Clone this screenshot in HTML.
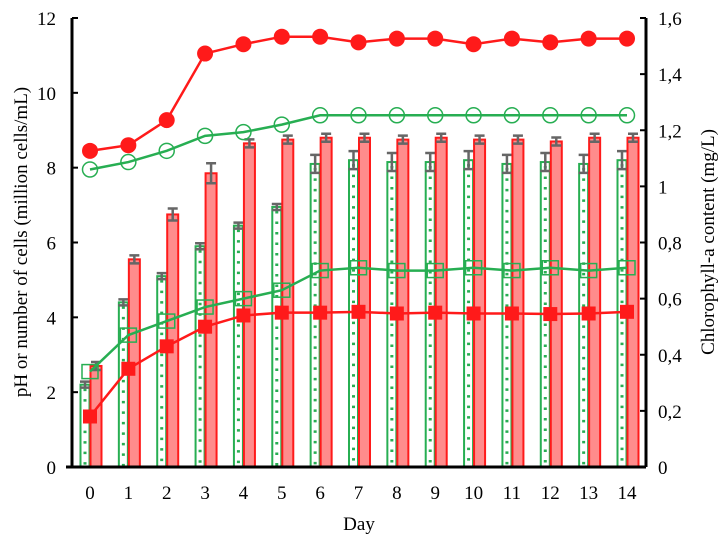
<!DOCTYPE html>
<html><head><meta charset="utf-8"><style>
html,body{margin:0;padding:0;background:#fff}
svg{display:block}
text{font-family:"Liberation Serif",serif;fill:#000}
</style></head><body>
<svg id="chart" width="726" height="544" viewBox="0 0 726 544" xmlns="http://www.w3.org/2000/svg"></svg>
<script>
const days=[0,1,2,3,4,5,6,7,8,9,10,11,12,13,14];
const leftTicks=[0,2,4,6,8,10,12];
const rightTicks=["0","0,2","0,4","0,6","0,8","1","1,2","1,4","1,6"];
const greenBars=[2.2,4.4,5.1,5.9,6.45,6.95,8.1,8.2,8.15,8.15,8.2,8.1,8.15,8.1,8.2];
const redBars=[2.7,5.55,6.75,7.85,8.65,8.75,8.8,8.8,8.75,8.8,8.75,8.75,8.7,8.8,8.8];
const redCircles=[8.45,8.6,9.27,11.05,11.3,11.5,11.5,11.35,11.45,11.45,11.3,11.45,11.35,11.45,11.45];
const greenCircles=[7.95,8.15,8.45,8.85,8.95,9.15,9.4,9.4,9.4,9.4,9.4,9.4,9.4,9.4,9.4];
const greenSquares=[0.34,0.47,0.52,0.57,0.6,0.63,0.70,0.71,0.70,0.70,0.71,0.70,0.71,0.70,0.71];
const redSquares=[0.18,0.35,0.43,0.50,0.54,0.55,0.55,0.553,0.547,0.55,0.547,0.547,0.545,0.547,0.553];

const svg=document.getElementById('chart');
const NS='http://www.w3.org/2000/svg';
const X0=72,X1=646,Y0=467,Y1=18;
const xs=d=>90+d*(627-90)/14;
const yL=v=>Y0-v*(Y0-Y1)/12;
const yR=v=>Y0-v*(Y0-Y1)/1.6;
function mk(tag,a,name,parent){const e=document.createElementNS(NS,tag);for(const k in a)e.setAttribute(k,a[k]);


(parent||svg).appendChild(e);return e;}
const err=(x,y,h,g)=>{mk('path',{d:`M${x-5},${y-h}H${x+5}M${x-5},${y+h}H${x+5}M${x},${y-h}V${y+h}`,stroke:'#666',"stroke-width":2.5,fill:'none'},'error-bar',g);};

const gb=mk('g',{},'bars');
days.forEach((d,i)=>{
  const x=xs(d);
  const yg=yL(greenBars[i]);
  mk('rect',{x:x-9.5,y:yg,width:9,height:Y0-yg,fill:'#fff',stroke:'#27ae52','stroke-width':2},'cell-count-bar',gb);
  mk('line',{x1:x-5,y1:yg+4,x2:x-5,y2:Y0,stroke:'#27ae52','stroke-width':3,'stroke-dasharray':'2.5,8'},'bar-dots',gb);
  err(x-5,yg,d>=6?9:3,gb);
  const yr=yL(redBars[i]);
  mk('rect',{x:x+0.5,y:yr,width:11,height:Y0-yr,fill:'#ff8c8c',stroke:'#ff1a1a','stroke-width':2},'chlorophyll-bar',gb);
  err(x+6,yr,d===3?10:d===2?6:4,gb);
});

function series(vals,yf,color,shape,name){
  const g=mk('g',{},name+'-series');
  const pts=days.map((d,i)=>[xs(d),yf(vals[i])]);
  mk('polyline',{points:pts.map(p=>p.join(',')).join(' '),fill:'none',stroke:color,'stroke-width':2.5},name+'-line',g);
  pts.forEach(p=>{
    if(shape==='fc')mk('circle',{cx:p[0],cy:p[1],r:8,fill:color},name+'-point',g);
    else if(shape==='oc')mk('circle',{cx:p[0],cy:p[1],r:7.5,fill:'none',stroke:color,'stroke-width':1.5},name+'-point',g);
    else if(shape==='fs')mk('rect',{x:p[0]-7,y:p[1]-7,width:14,height:14,fill:color},name+'-point',g);
    else mk('rect',{x:p[0]-8,y:p[1]-7,width:16,height:14,fill:'none',stroke:color,'stroke-width':1.5},name+'-point',g);
  });
}
series(greenSquares,yR,'#27ae52','os','green-square');
series(redSquares,yR,'#ff1a1a','fs','red-square');
series(greenCircles,yL,'#27ae52','oc','green-circle');
series(redCircles,yL,'#ff1a1a','fc','red-circle');

const ax=mk('g',{},'axes');
mk('path',{d:`M${X0},${Y1}V${Y0}M66,${Y0}H${X1}M${X1},${Y1}V${Y0}`,stroke:'#000','stroke-width':3,fill:'none'},'axis-lines',ax);
leftTicks.forEach(v=>{const y=yL(v);
  mk('line',{x1:X0,y1:y,x2:X0+6,y2:y,stroke:'#000','stroke-width':2},'left-tick',ax);
  const t=mk('text',{x:X0-16,y:y+7,'font-size':19,'text-anchor':'end'},'left-tick-label',ax);t.textContent=v;});
rightTicks.forEach((s,i)=>{const y=yR(i*0.2);
  mk('line',{x1:X1-6,y1:y,x2:X1,y2:y,stroke:'#000','stroke-width':2},'right-tick',ax);
  const t=mk('text',{x:X1+12,y:y+7,'font-size':19},'right-tick-label',ax);t.textContent=s;});
days.forEach(d=>{const t=mk('text',{x:xs(d),y:499,'font-size':19,'text-anchor':'middle'},'x-tick-label',ax);t.textContent=d;});
let t=mk('text',{x:359,y:530,'font-size':19,'text-anchor':'middle'},'x-axis-title',ax);t.textContent='Day';
t=mk('text',{x:0,y:0,'font-size':19,'text-anchor':'middle',transform:`translate(27,242) rotate(-90)`},'left-axis-title',ax);t.textContent='pH or number of cells (million cells/mL)';
t=mk('text',{x:0,y:0,'font-size':19,'text-anchor':'middle',transform:`translate(714,242) rotate(-90)`},'right-axis-title',ax);t.textContent='Chlorophyll-a content (mg/L)';
</script>
</body></html>
